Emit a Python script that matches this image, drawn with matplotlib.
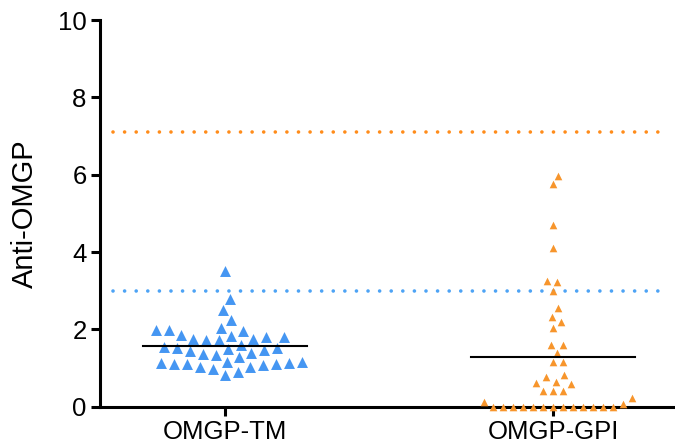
import numpy as np
import matplotlib
matplotlib.use("Agg")
import matplotlib.pyplot as plt

plt.rcParams['font.family'] = ['Liberation Sans', 'DejaVu Sans']

groups = ["OMGP-TM", "OMGP-GPI"]

tm_values = [3.50, 2.78, 2.51, 2.25,
             1.99, 1.97, 1.99, 2.05,
             1.83, 1.80, 1.80, 1.86,
             1.73, 1.73, 1.75, 1.75,
             1.54, 1.52, 1.46, 1.39, 1.34, 1.28, 1.36, 1.43, 1.49, 1.53, 1.60,
             1.17, 1.13, 1.11, 1.11, 1.04, 0.98, 0.83, 0.90, 1.03, 1.09, 1.11,
             1.13, 1.15]

gpi_values = [5.98, 5.75, 4.70, 4.10, 3.24, 3.26, 3.00, 2.55, 2.20, 2.33,
              2.03, 1.60, 1.60, 1.39, 1.17, 1.15, 0.83, 0.76, 0.65, 0.59,
              0.61, 0.41, 0.40, 0.42, 0.22, 0.12, 0.07,
              0, 0, 0, 0, 0, 0, 0, 0, 0, 0, 0, 0, 0]

# cut-off lines
tm_cutoff = 3.0
gpi_cutoff = 7.1

blue = "#4596F2"
orange = "#F7952C"


def swarm_offsets(ax, x0, values, diam):
    # simple beeswarm in pixel space, returns x positions in data units
    trans = ax.transData
    pts = trans.transform(np.column_stack([np.full(len(values), x0), values]))
    order = np.argsort(values)
    placed = []
    xs = np.zeros(len(values))
    cand = [0]
    for k in range(1, 300):
        cand += [k, -k]
    for i in order:
        py = pts[i, 1]
        for dx in cand:
            ok = True
            for (qx, qy) in placed:
                if (qx - dx) ** 2 + (qy - py) ** 2 < diam ** 2:
                    ok = False
                    break
            if ok:
                break
        placed.append((dx, py))
        xs[i] = dx
    inv = trans.inverted()
    out = inv.transform(np.column_stack([pts[:, 0] + xs, pts[:, 1]]))
    return out[:, 0]


fig = plt.figure(figsize=(6.75, 4.48), dpi=100)
ax = fig.add_axes([0.148, 0.092, 0.852, 0.863])
ax.set_xlim(-0.381, 1.372)
ax.set_ylim(0, 10)

ax.plot([-0.34, 1.35], [gpi_cutoff, gpi_cutoff], color="#FF8C1A", lw=2.6,
        linestyle=(0, (0.01, 3.2)), dash_capstyle="round")
ax.plot([-0.34, 1.35], [tm_cutoff, tm_cutoff], color="#4DA3F5", lw=2.6,
        linestyle=(0, (0.01, 3.2)), dash_capstyle="round")

x_tm = swarm_offsets(ax, 0, tm_values, 12.5)
x_gpi = swarm_offsets(ax, 1, gpi_values, 10.0)

ax.scatter(x_tm, tm_values, marker="^", s=62, color=blue, linewidths=0,
           zorder=3, clip_on=False)
ax.scatter(x_gpi, gpi_values, marker="^", s=30, color=orange, linewidths=0,
           zorder=3, clip_on=False)

ax.plot([-0.25, 0.25], [np.mean(tm_values)] * 2, color="black", lw=1.5, zorder=4)
ax.plot([0.75, 1.25], [np.mean(gpi_values)] * 2, color="black", lw=1.5, zorder=4)

ax.spines['top'].set_visible(False)
ax.spines['right'].set_visible(False)
for s in ['left', 'bottom']:
    ax.spines[s].set_linewidth(2.2)

ax.set_xticks([0, 1])
ax.set_xticklabels(groups)
ax.set_yticks([0, 2, 4, 6, 8, 10])
ax.tick_params(axis='both', width=2.2, length=6.5, labelsize=18.5, pad=3)
ax.set_ylabel("Anti-OMGP", fontsize=21, labelpad=14)

fig.savefig("out.png", dpi=100)
